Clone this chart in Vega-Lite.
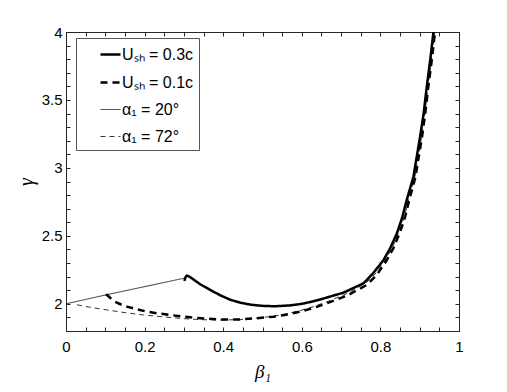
{
  "$schema": "https://vega.github.io/schema/vega-lite/v6.json",
  "width": 393,
  "height": 299,
  "autosize": {"type": "none"},
  "padding": {"left": 66, "top": 32, "right": 48, "bottom": 61},
  "background": "white",
  "config": {
    "font": "Liberation Sans",
    "view": {"stroke": "#262626", "strokeWidth": 1},
    "axis": {
      "domainColor": "#262626",
      "tickColor": "#262626",
      "labelColor": "#000000",
      "labelFont": "Liberation Sans",
      "labelFontSize": 15,
      "grid": false,
      "titleColor": "#000000",
      "titleFontWeight": "normal",
      "labelOverlap": false,
      "labelFlush": false
    },
    "legend": {
      "padding": 5,
      "rowPadding": 8,
      "strokeColor": "#555555",
      "fillColor": "white",
      "symbolType": "stroke",
      "symbolSize": 400,
      "symbolStrokeColor": "black",
      "symbolOffset": 18,
      "labelOffset": 0,
      "labelFont": "Liberation Sans",
      "labelFontSize": 16,
      "labelColor": "#000000"
    }
  },
  "datasets": {
    "curves": [
      {"series": "Uₛₕ = 0.3c", "beta": 0.301, "gamma": 2.168},
      {"series": "Uₛₕ = 0.3c", "beta": 0.304, "gamma": 2.195},
      {"series": "Uₛₕ = 0.3c", "beta": 0.307, "gamma": 2.207},
      {"series": "Uₛₕ = 0.3c", "beta": 0.312, "gamma": 2.203},
      {"series": "Uₛₕ = 0.3c", "beta": 0.320, "gamma": 2.188},
      {"series": "Uₛₕ = 0.3c", "beta": 0.341, "gamma": 2.145},
      {"series": "Uₛₕ = 0.3c", "beta": 0.367, "gamma": 2.102},
      {"series": "Uₛₕ = 0.3c", "beta": 0.393, "gamma": 2.062},
      {"series": "Uₛₕ = 0.3c", "beta": 0.418, "gamma": 2.030},
      {"series": "Uₛₕ = 0.3c", "beta": 0.444, "gamma": 2.008},
      {"series": "Uₛₕ = 0.3c", "beta": 0.469, "gamma": 1.994},
      {"series": "Uₛₕ = 0.3c", "beta": 0.500, "gamma": 1.985},
      {"series": "Uₛₕ = 0.3c", "beta": 0.530, "gamma": 1.982},
      {"series": "Uₛₕ = 0.3c", "beta": 0.570, "gamma": 1.988},
      {"series": "Uₛₕ = 0.3c", "beta": 0.600, "gamma": 2.000},
      {"series": "Uₛₕ = 0.3c", "beta": 0.621, "gamma": 2.013},
      {"series": "Uₛₕ = 0.3c", "beta": 0.645, "gamma": 2.030},
      {"series": "Uₛₕ = 0.3c", "beta": 0.668, "gamma": 2.050},
      {"series": "Uₛₕ = 0.3c", "beta": 0.706, "gamma": 2.082},
      {"series": "Uₛₕ = 0.3c", "beta": 0.757, "gamma": 2.151},
      {"series": "Uₛₕ = 0.3c", "beta": 0.780, "gamma": 2.220},
      {"series": "Uₛₕ = 0.3c", "beta": 0.808, "gamma": 2.322},
      {"series": "Uₛₕ = 0.3c", "beta": 0.825, "gamma": 2.410},
      {"series": "Uₛₕ = 0.3c", "beta": 0.842, "gamma": 2.519},
      {"series": "Uₛₕ = 0.3c", "beta": 0.855, "gamma": 2.630},
      {"series": "Uₛₕ = 0.3c", "beta": 0.867, "gamma": 2.764},
      {"series": "Uₛₕ = 0.3c", "beta": 0.884, "gamma": 2.935},
      {"series": "Uₛₕ = 0.3c", "beta": 0.901, "gamma": 3.230},
      {"series": "Uₛₕ = 0.3c", "beta": 0.910, "gamma": 3.400},
      {"series": "Uₛₕ = 0.3c", "beta": 0.918, "gamma": 3.598},
      {"series": "Uₛₕ = 0.3c", "beta": 0.927, "gamma": 3.800},
      {"series": "Uₛₕ = 0.3c", "beta": 0.935, "gamma": 4.000},

      {"series": "Uₛₕ = 0.1c", "beta": 0.102, "gamma": 2.072},
      {"series": "Uₛₕ = 0.1c", "beta": 0.110, "gamma": 2.050},
      {"series": "Uₛₕ = 0.1c", "beta": 0.125, "gamma": 2.015},
      {"series": "Uₛₕ = 0.1c", "beta": 0.140, "gamma": 1.995},
      {"series": "Uₛₕ = 0.1c", "beta": 0.155, "gamma": 1.979},
      {"series": "Uₛₕ = 0.1c", "beta": 0.180, "gamma": 1.960},
      {"series": "Uₛₕ = 0.1c", "beta": 0.206, "gamma": 1.942},
      {"series": "Uₛₕ = 0.1c", "beta": 0.235, "gamma": 1.929},
      {"series": "Uₛₕ = 0.1c", "beta": 0.265, "gamma": 1.918},
      {"series": "Uₛₕ = 0.1c", "beta": 0.295, "gamma": 1.907},
      {"series": "Uₛₕ = 0.1c", "beta": 0.324, "gamma": 1.898},
      {"series": "Uₛₕ = 0.1c", "beta": 0.360, "gamma": 1.890},
      {"series": "Uₛₕ = 0.1c", "beta": 0.400, "gamma": 1.884},
      {"series": "Uₛₕ = 0.1c", "beta": 0.443, "gamma": 1.885},
      {"series": "Uₛₕ = 0.1c", "beta": 0.480, "gamma": 1.893},
      {"series": "Uₛₕ = 0.1c", "beta": 0.528, "gamma": 1.905},
      {"series": "Uₛₕ = 0.1c", "beta": 0.560, "gamma": 1.920},
      {"series": "Uₛₕ = 0.1c", "beta": 0.596, "gamma": 1.942},
      {"series": "Uₛₕ = 0.1c", "beta": 0.630, "gamma": 1.970},
      {"series": "Uₛₕ = 0.1c", "beta": 0.664, "gamma": 2.004},
      {"series": "Uₛₕ = 0.1c", "beta": 0.715, "gamma": 2.060},
      {"series": "Uₛₕ = 0.1c", "beta": 0.766, "gamma": 2.140},
      {"series": "Uₛₕ = 0.1c", "beta": 0.790, "gamma": 2.210},
      {"series": "Uₛₕ = 0.1c", "beta": 0.816, "gamma": 2.320},
      {"series": "Uₛₕ = 0.1c", "beta": 0.833, "gamma": 2.410},
      {"series": "Uₛₕ = 0.1c", "beta": 0.849, "gamma": 2.520},
      {"series": "Uₛₕ = 0.1c", "beta": 0.862, "gamma": 2.630},
      {"series": "Uₛₕ = 0.1c", "beta": 0.873, "gamma": 2.760},
      {"series": "Uₛₕ = 0.1c", "beta": 0.889, "gamma": 2.930},
      {"series": "Uₛₕ = 0.1c", "beta": 0.906, "gamma": 3.230},
      {"series": "Uₛₕ = 0.1c", "beta": 0.914, "gamma": 3.400},
      {"series": "Uₛₕ = 0.1c", "beta": 0.922, "gamma": 3.600},
      {"series": "Uₛₕ = 0.1c", "beta": 0.931, "gamma": 3.800},
      {"series": "Uₛₕ = 0.1c", "beta": 0.939, "gamma": 4.000},

      {"series": "α₁ = 20°", "beta": 0.000, "gamma": 2.000},
      {"series": "α₁ = 20°", "beta": 0.102, "gamma": 2.066},
      {"series": "α₁ = 20°", "beta": 0.303, "gamma": 2.190},

      {"series": "α₁ = 72°", "beta": 0.028, "gamma": 1.993},
      {"series": "α₁ = 72°", "beta": 0.060, "gamma": 1.975},
      {"series": "α₁ = 72°", "beta": 0.104, "gamma": 1.955},
      {"series": "α₁ = 72°", "beta": 0.150, "gamma": 1.935},
      {"series": "α₁ = 72°", "beta": 0.197, "gamma": 1.918},
      {"series": "α₁ = 72°", "beta": 0.250, "gamma": 1.903},
      {"series": "α₁ = 72°", "beta": 0.308, "gamma": 1.889},
      {"series": "α₁ = 72°", "beta": 0.350, "gamma": 1.883},
      {"series": "α₁ = 72°", "beta": 0.400, "gamma": 1.881},
      {"series": "α₁ = 72°", "beta": 0.443, "gamma": 1.884},
      {"series": "α₁ = 72°", "beta": 0.480, "gamma": 1.893},
      {"series": "α₁ = 72°", "beta": 0.528, "gamma": 1.909},
      {"series": "α₁ = 72°", "beta": 0.560, "gamma": 1.926},
      {"series": "α₁ = 72°", "beta": 0.596, "gamma": 1.950},
      {"series": "α₁ = 72°", "beta": 0.630, "gamma": 1.980},
      {"series": "α₁ = 72°", "beta": 0.664, "gamma": 2.015},
      {"series": "α₁ = 72°", "beta": 0.715, "gamma": 2.075},
      {"series": "α₁ = 72°", "beta": 0.766, "gamma": 2.160},
      {"series": "α₁ = 72°", "beta": 0.790, "gamma": 2.230},
      {"series": "α₁ = 72°", "beta": 0.816, "gamma": 2.340},
      {"series": "α₁ = 72°", "beta": 0.833, "gamma": 2.430},
      {"series": "α₁ = 72°", "beta": 0.849, "gamma": 2.540},
      {"series": "α₁ = 72°", "beta": 0.862, "gamma": 2.650},
      {"series": "α₁ = 72°", "beta": 0.873, "gamma": 2.780},
      {"series": "α₁ = 72°", "beta": 0.889, "gamma": 2.950},
      {"series": "α₁ = 72°", "beta": 0.906, "gamma": 3.250},
      {"series": "α₁ = 72°", "beta": 0.914, "gamma": 3.420},
      {"series": "α₁ = 72°", "beta": 0.922, "gamma": 3.620},
      {"series": "α₁ = 72°", "beta": 0.931, "gamma": 3.820},
      {"series": "α₁ = 72°", "beta": 0.938, "gamma": 4.000}
    ]
  },
  "data": {"name": "curves"},
  "layer": [
    {
      "mark": {"type": "line", "color": "black", "clip": true},
      "encoding": {
        "x": {
          "field": "beta", "type": "quantitative",
          "scale": {"domain": [0, 1], "nice": false},
          "axis": {
            "orient": "bottom",
            "values": [0,0.05,0.1,0.15,0.2,0.25,0.3,0.35,0.4,0.45,0.5,0.55,0.6,0.65,0.7,0.75,0.8,0.85,0.9,0.95,1],
            "labelExpr": "abs(round(datum.value*5)-datum.value*5)<1e-6 ? format(datum.value,'~g') : ''",
            "tickSize": -4,
            "labelPadding": 12,
            "title": "β₁",
            "titleFont": "Liberation Serif",
            "titleFontStyle": "italic",
            "titleFontSize": 19,
            "titlePadding": 8
          }
        },
        "y": {
          "field": "gamma", "type": "quantitative",
          "scale": {"domain": [1.8, 4], "nice": false, "zero": false},
          "axis": {
            "orient": "left",
            "values": [1.8,1.9,2,2.1,2.2,2.3,2.4,2.5,2.6,2.7,2.8,2.9,3,3.1,3.2,3.3,3.4,3.5,3.6,3.7,3.8,3.9,4],
            "labelExpr": "abs(round(datum.value*2)-datum.value*2)<1e-6 ? format(datum.value,'~g') : ''",
            "tickSize": -4,
            "labelPadding": 8,
            "title": "γ",
            "titleFont": "Liberation Serif",
            "titleFontStyle": "italic",
            "titleFontSize": 20,
            "titlePadding": 5
          }
        },
        "strokeDash": {
          "field": "series", "type": "nominal",
          "scale": {"domain": ["Uₛₕ = 0.3c", "Uₛₕ = 0.1c", "α₁ = 20°", "α₁ = 72°"], "range": [[1, 0], [7, 5], [1, 0], [5, 4]]},
          "legend": {
            "orient": "none", "legendX": 10, "legendY": 6,
            "title": null, "padding": 5, "rowPadding": 8
          }
        },
        "strokeWidth": {
          "field": "series", "type": "nominal",
          "scale": {"type": "ordinal", "domain": ["Uₛₕ = 0.3c", "Uₛₕ = 0.1c", "α₁ = 20°", "α₁ = 72°"], "range": [2.5, 2.5, 0.8, 0.8]},
          "legend": {
            "orient": "none", "legendX": 10, "legendY": 6,
            "title": null, "padding": 5, "rowPadding": 8
          }
        }
      }
    },
    {
      "mark": {"type": "point", "opacity": 0},
      "encoding": {
        "x": {
          "field": "beta", "type": "quantitative",
          "axis": {
            "orient": "top", "labels": false, "title": null,
            "values": [0,0.05,0.1,0.15,0.2,0.25,0.3,0.35,0.4,0.45,0.5,0.55,0.6,0.65,0.7,0.75,0.8,0.85,0.9,0.95,1],
            "tickSize": -4
          }
        },
        "y": {
          "field": "gamma", "type": "quantitative",
          "axis": {
            "orient": "right", "labels": false, "title": null,
            "values": [1.8,1.9,2,2.1,2.2,2.3,2.4,2.5,2.6,2.7,2.8,2.9,3,3.1,3.2,3.3,3.4,3.5,3.6,3.7,3.8,3.9,4],
            "tickSize": -4
          }
        }
      }
    }
  ],
  "resolve": {"axis": {"x": "independent", "y": "independent"}}
}
